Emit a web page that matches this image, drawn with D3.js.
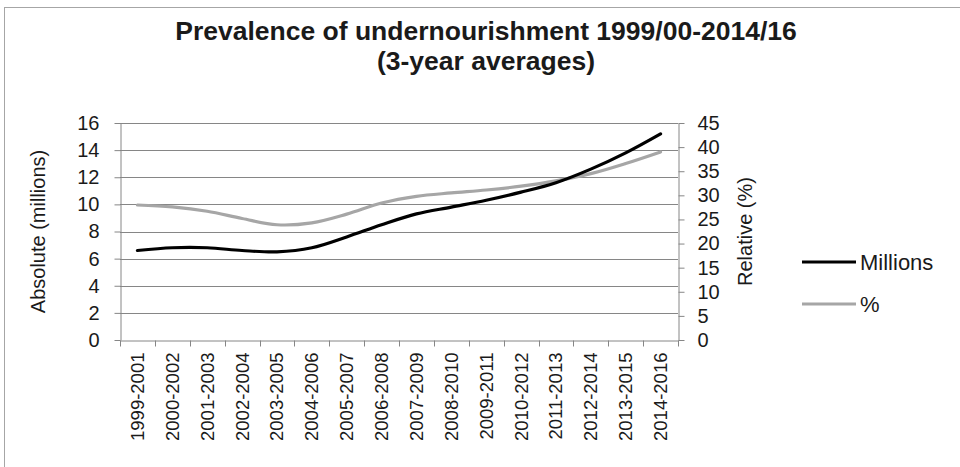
<!DOCTYPE html>
<html>
<head>
<meta charset="utf-8">
<script src="https://cdn.jsdelivr.net/npm/d3@7"></script>
<style>
html,body{margin:0;padding:0;background:#fff;}
svg{display:block;font-family:"Liberation Sans",Arial,sans-serif;}
</style>
</head>
<body>
<svg id="chart" width="960" height="467"></svg>
<script>
const categories = ["1999-2001","2000-2002","2001-2003","2002-2004","2003-2005","2004-2006","2005-2007","2006-2008","2007-2009","2008-2010","2009-2011","2010-2012","2011-2013","2012-2014","2013-2015","2014-2016"];
const millions = [6.6, 6.8, 6.8, 6.6, 6.5, 6.8, 7.6, 8.5, 9.3, 9.8, 10.3, 10.9, 11.6, 12.6, 13.8, 15.2];
const percent = [28.0, 27.6, 26.7, 25.2, 23.9, 24.3, 26.1, 28.4, 29.8, 30.5, 31.1, 31.9, 33.0, 34.5, 36.6, 39.0];
const leftTicks = [0,2,4,6,8,10,12,14,16];
const rightTicks = [0,5,10,15,20,25,30,35,40,45];
const titleLines = ["Prevalence of undernourishment 1999/00-2014/16","(3-year averages)"];
const seriesNames = ["Millions","%"];

const svg = d3.select("#chart");
const W = 960, H = 467;
const plot = {left:120, right:678, top:123, bottom:340};
const gridColor = "#868686";
const textColor = "#1a1a1a";

// outer border
svg.append("rect").attr("x",4.5).attr("y",7.5).attr("width",W).attr("height",H)
  .attr("fill","none").attr("stroke","#a6a6a6").attr("stroke-width",1);

// title
const title = svg.append("text").attr("text-anchor","middle").attr("font-weight","bold")
  .attr("font-size",26.5).attr("fill",textColor);
titleLines.forEach((t,i)=>{
  title.append("tspan").attr("x",486).attr("y",40+i*30).text(t);
});

const x = d3.scaleBand().domain(categories).range([plot.left, plot.right]);
const yL = d3.scaleLinear().domain([0,16]).range([plot.bottom, plot.top]);
const yR = d3.scaleLinear().domain([0,45]).range([plot.bottom, plot.top]);

// gridlines
svg.append("g").selectAll("line").data(leftTicks.filter(d=>d>0)).join("line")
  .attr("x1",plot.left).attr("x2",plot.right)
  .attr("y1",d=>Math.round(yL(d))+0.5).attr("y2",d=>Math.round(yL(d))+0.5)
  .attr("stroke",gridColor).attr("stroke-width",1);

// left axis
const gL = svg.append("g").attr("transform",`translate(${plot.left+0.5},0)`)
  .call(d3.axisLeft(yL).tickValues(leftTicks).tickSize(6).tickPadding(15).tickSizeOuter(0));
// right axis
const gR = svg.append("g").attr("transform",`translate(${plot.right+0.5},0)`)
  .call(d3.axisRight(yR).tickValues(rightTicks).tickSize(6).tickPadding(13).tickSizeOuter(0));
// bottom axis
const xTickPos = categories.map(c=>x(c)).concat([plot.right]);
const gB = svg.append("g").attr("transform",`translate(0,${plot.bottom+0.5})`)
  .call(d3.axisBottom(x).tickSize(0).tickPadding(0).tickSizeOuter(0));
gB.selectAll(".tick text").attr("transform","rotate(-90)").attr("text-anchor","end")
  .attr("x",-12).attr("y",0).attr("dy","0.35em");
gB.append("g").selectAll("line").data(xTickPos).join("line")
  .attr("x1",d=>Math.round(d)+0.5).attr("x2",d=>Math.round(d)+0.5).attr("y1",0).attr("y2",6)
  .attr("stroke",gridColor);

[gL,gR,gB].forEach(g=>{
  g.select(".domain").attr("stroke",gridColor);
  g.selectAll(".tick line").attr("stroke",gridColor);
  g.selectAll(".tick text").attr("font-size",20).attr("fill",textColor)
    .attr("font-family","'Liberation Sans',Arial,sans-serif");
});
gB.selectAll(".tick text").attr("font-size",18.5);

// axis titles
svg.append("text").attr("transform",`translate(38,${(plot.top+plot.bottom)/2}) rotate(-90)`)
  .attr("text-anchor","middle").attr("dy","0.35em").attr("font-size",20).attr("fill",textColor)
  .text("Absolute (millions)");
svg.append("text").attr("transform",`translate(745,${(plot.top+plot.bottom)/2}) rotate(-90)`)
  .attr("text-anchor","middle").attr("dy","0.35em").attr("font-size",20).attr("fill",textColor)
  .text("Relative (%)");

// lines
const cx = c => x(c) + x.bandwidth()/2;
const lineL = d3.line().x((d,i)=>cx(categories[i])).y(d=>yL(d)).curve(d3.curveCatmullRom.alpha(0.5));
const lineR = d3.line().x((d,i)=>cx(categories[i])).y(d=>yR(d)).curve(d3.curveCatmullRom.alpha(0.5));
svg.append("path").datum(percent).attr("d",lineR).attr("fill","none")
  .attr("stroke","#a6a6a6").attr("stroke-width",3.2).attr("stroke-linecap","round");
svg.append("path").datum(millions).attr("d",lineL).attr("fill","none")
  .attr("stroke","#000").attr("stroke-width",3.2).attr("stroke-linecap","round");

// legend
const legend = svg.append("g");
const legColors = ["#000","#a6a6a6"];
seriesNames.forEach((n,i)=>{
  const yy = 262 + i*42;
  legend.append("line").attr("x1",802).attr("x2",856).attr("y1",yy).attr("y2",yy)
    .attr("stroke",legColors[i]).attr("stroke-width",3.2);
  legend.append("text").attr("x",860).attr("y",yy).attr("dy","0.35em")
    .attr("font-size",22).attr("fill",textColor).text(n);
});
</script>
</body>
</html>
